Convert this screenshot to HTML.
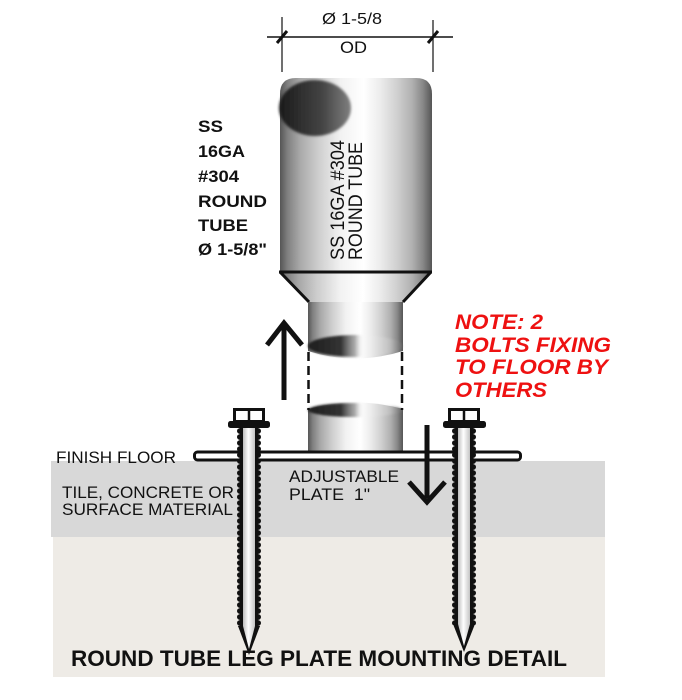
<!DOCTYPE html>
<html><head><meta charset="utf-8"><style>
html,body{margin:0;padding:0;background:#fff;}
svg{display:block;}
text{font-family:"Liberation Sans",Arial,sans-serif;}
</style></head><body>
<svg width="682" height="700" viewBox="0 0 682 700" xmlns="http://www.w3.org/2000/svg">
<defs>
<linearGradient id="cyl" x1="0" x2="1" y1="0" y2="0">
<stop offset="0" stop-color="#555"/>
<stop offset="0.05" stop-color="#808080"/>
<stop offset="0.13" stop-color="#a8a8a8"/>
<stop offset="0.25" stop-color="#cdcdcd"/>
<stop offset="0.4" stop-color="#f2f2f2"/>
<stop offset="0.55" stop-color="#ffffff"/>
<stop offset="0.66" stop-color="#ececec"/>
<stop offset="0.77" stop-color="#d0d0d0"/>
<stop offset="0.87" stop-color="#b0b0b0"/>
<stop offset="0.94" stop-color="#888"/>
<stop offset="1" stop-color="#555"/>
</linearGradient>
<linearGradient id="hole" x1="0" x2="1" y1="0" y2="0">
<stop offset="0" stop-color="#1a1a1a"/>
<stop offset="0.6" stop-color="#444"/>
<stop offset="1" stop-color="#808080"/>
</linearGradient>
<linearGradient id="band" x1="0" x2="1" y1="0" y2="0">
<stop offset="0" stop-color="#1e1e1e"/>
<stop offset="0.35" stop-color="#333"/>
<stop offset="0.5" stop-color="#8a8a8a" stop-opacity="0.7"/>
<stop offset="0.6" stop-color="#fff" stop-opacity="0"/>
<stop offset="0.85" stop-color="#ddd" stop-opacity="0.3"/>
<stop offset="1" stop-color="#666"/>
</linearGradient>
<linearGradient id="shaft" x1="0" x2="1" y1="0" y2="0">
<stop offset="0" stop-color="#bdbdbd"/>
<stop offset="0.45" stop-color="#ffffff"/>
<stop offset="1" stop-color="#c4c4c4"/>
</linearGradient>
<filter id="blur2"><feGaussianBlur stdDeviation="1.3"/></filter>
<filter id="blur1"><feGaussianBlur stdDeviation="1"/></filter>
<pattern id="thrL" width="24" height="6" patternUnits="userSpaceOnUse" x="237" y="428">
<rect x="6" y="0" width="12" height="6" fill="url(#shaft)"/>
<rect x="2.5" y="0" width="3.5" height="6" fill="#111"/>
<circle cx="2.8" cy="3" r="2.8" fill="#111"/>
<rect x="18" y="0" width="3.5" height="6" fill="#111"/>
<circle cx="21.2" cy="3" r="2.8" fill="#111"/>
</pattern>
<pattern id="thrR" width="24" height="6" patternUnits="userSpaceOnUse" x="452" y="428">
<rect x="6" y="0" width="12" height="6" fill="url(#shaft)"/>
<rect x="2.5" y="0" width="3.5" height="6" fill="#111"/>
<circle cx="2.8" cy="3" r="2.8" fill="#111"/>
<rect x="18" y="0" width="3.5" height="6" fill="#111"/>
<circle cx="21.2" cy="3" r="2.8" fill="#111"/>
</pattern>
</defs>

<!-- ground -->
<rect x="51" y="461" width="554" height="76" fill="#d8d8d8"/>
<rect x="53" y="537" width="552" height="140" fill="#eeebe6"/>

<!-- dimension -->
<line x1="267" y1="37" x2="453" y2="37" stroke="#111" stroke-width="1.6"/>
<line x1="282" y1="17" x2="282" y2="72" stroke="#111" stroke-width="1.2"/>
<line x1="433" y1="20" x2="433" y2="72" stroke="#111" stroke-width="1.2"/>
<line x1="277" y1="43" x2="287" y2="31" stroke="#111" stroke-width="3"/>
<line x1="428" y1="43" x2="438" y2="31" stroke="#111" stroke-width="3"/>
<text x="322" y="24" font-size="16" textLength="60" lengthAdjust="spacingAndGlyphs" fill="#111">Ø 1-5/8</text>
<text x="340" y="53" font-size="17" textLength="27" lengthAdjust="spacingAndGlyphs" fill="#111">OD</text>

<!-- upper cylinder -->
<path d="M280,272 L280,94 Q280,78 296,78 L416,78 Q432,78 432,94 L432,272 Z" fill="url(#cyl)"/>
<ellipse cx="315" cy="108" rx="36" ry="28" fill="url(#hole)" filter="url(#blur2)"/>

<!-- rotated label -->
<text transform="translate(344,260) rotate(-90)" font-size="19" textLength="120" lengthAdjust="spacingAndGlyphs" fill="#111">SS 16GA #304</text>
<text transform="translate(362,260) rotate(-90)" font-size="19" textLength="118" lengthAdjust="spacingAndGlyphs" fill="#111">ROUND TUBE</text>

<!-- cone -->
<polygon points="279,272 432,272 403,302 309,302" fill="url(#cyl)"/>
<line x1="279" y1="272" x2="432" y2="272" stroke="#111" stroke-width="3"/>
<line x1="280" y1="272" x2="309" y2="302" stroke="#111" stroke-width="3"/>
<line x1="431" y1="272" x2="403" y2="302" stroke="#111" stroke-width="3"/>

<!-- lower tube upper piece -->
<path d="M308,302 L403,302 L403,351 Q355,366 308,351 Z" fill="url(#cyl)"/>
<ellipse cx="355" cy="346" rx="47" ry="11" fill="url(#band)" filter="url(#blur1)"/>
<!-- lower piece -->
<path d="M308,409 Q355,396 403,409 L403,451 L308,451 Z" fill="url(#cyl)"/>
<ellipse cx="355" cy="410" rx="47" ry="7" fill="url(#band)" filter="url(#blur1)"/>
<!-- dashed lines -->
<line x1="308.5" y1="352" x2="308.5" y2="410" stroke="#111" stroke-width="2.5" stroke-dasharray="9,5"/>
<line x1="402" y1="352" x2="402" y2="410" stroke="#111" stroke-width="2.5" stroke-dasharray="9,5"/>

<!-- plate -->
<rect x="194.5" y="452" width="326" height="8" rx="3" fill="#fff" stroke="#111" stroke-width="3"/>

<!-- arrows -->
<line x1="284" y1="400" x2="284" y2="326" stroke="#111" stroke-width="5"/>
<polyline points="267,345 284,323 302,345" fill="none" stroke="#111" stroke-width="5"/>
<line x1="427" y1="425" x2="427" y2="498" stroke="#111" stroke-width="5"/>
<polyline points="409,482 427,502 445,482" fill="none" stroke="#111" stroke-width="5"/>

<!-- text left -->
<g font-weight="bold" font-size="17" fill="#111">
<text x="198" y="132" textLength="25" lengthAdjust="spacingAndGlyphs">SS</text>
<text x="198" y="157" textLength="47" lengthAdjust="spacingAndGlyphs">16GA</text>
<text x="198" y="182" textLength="41" lengthAdjust="spacingAndGlyphs">#304</text>
<text x="198" y="207" textLength="69" lengthAdjust="spacingAndGlyphs">ROUND</text>
<text x="198" y="231" textLength="50" lengthAdjust="spacingAndGlyphs">TUBE</text>
<text x="198" y="255" textLength="69" lengthAdjust="spacingAndGlyphs">Ø 1-5/8"</text>
</g>

<!-- note -->
<g font-weight="bold" font-style="italic" font-size="21" fill="#ee1111">
<text x="455" y="329" textLength="88" lengthAdjust="spacingAndGlyphs">NOTE: 2</text>
<text x="455" y="352" textLength="156" lengthAdjust="spacingAndGlyphs">BOLTS FIXING</text>
<text x="455" y="374" textLength="153" lengthAdjust="spacingAndGlyphs">TO FLOOR BY</text>
<text x="455" y="397" textLength="92" lengthAdjust="spacingAndGlyphs">OTHERS</text>
</g>

<!-- floor labels -->
<g font-size="17" fill="#111">
<text x="56" y="463" textLength="120" lengthAdjust="spacingAndGlyphs">FINISH FLOOR</text>
<text x="62" y="498" textLength="172" lengthAdjust="spacingAndGlyphs">TILE, CONCRETE OR</text>
<text x="62" y="515" textLength="171" lengthAdjust="spacingAndGlyphs">SURFACE MATERIAL</text>
<text x="289" y="482" textLength="110" lengthAdjust="spacingAndGlyphs">ADJUSTABLE</text>
<text x="289" y="500" textLength="81" lengthAdjust="spacingAndGlyphs" xml:space="preserve">PLATE  1"</text>
</g>

<!-- title -->
<text x="71" y="666" font-size="22" font-weight="bold" fill="#111" textLength="496" lengthAdjust="spacingAndGlyphs">ROUND TUBE LEG PLATE MOUNTING DETAIL</text>

<!-- left bolt -->
<rect x="237" y="427" width="24" height="200" fill="url(#thrL)"/>
<polygon points="238,626 260,626 249,655" fill="#111"/>
<polygon points="243,626 255,626 249,649" fill="url(#shaft)"/>
<rect x="234.5" y="409.5" width="29" height="12" fill="#fff" stroke="#111" stroke-width="3"/>
<line x1="249" y1="409" x2="249" y2="422" stroke="#111" stroke-width="2.5"/>
<rect x="228" y="421" width="42" height="7" rx="2.5" fill="#111"/>

<!-- right bolt -->
<rect x="452" y="427" width="24" height="198" fill="url(#thrR)"/>
<polygon points="453,624 475,624 464,652" fill="#111"/>
<polygon points="458,624 470,624 464,646" fill="url(#shaft)"/>
<rect x="449.5" y="409.5" width="29" height="12" fill="#fff" stroke="#111" stroke-width="3"/>
<line x1="464" y1="409" x2="464" y2="422" stroke="#111" stroke-width="2.5"/>
<rect x="443" y="421" width="43" height="7" rx="2.5" fill="#111"/>
</svg>
</body></html>
